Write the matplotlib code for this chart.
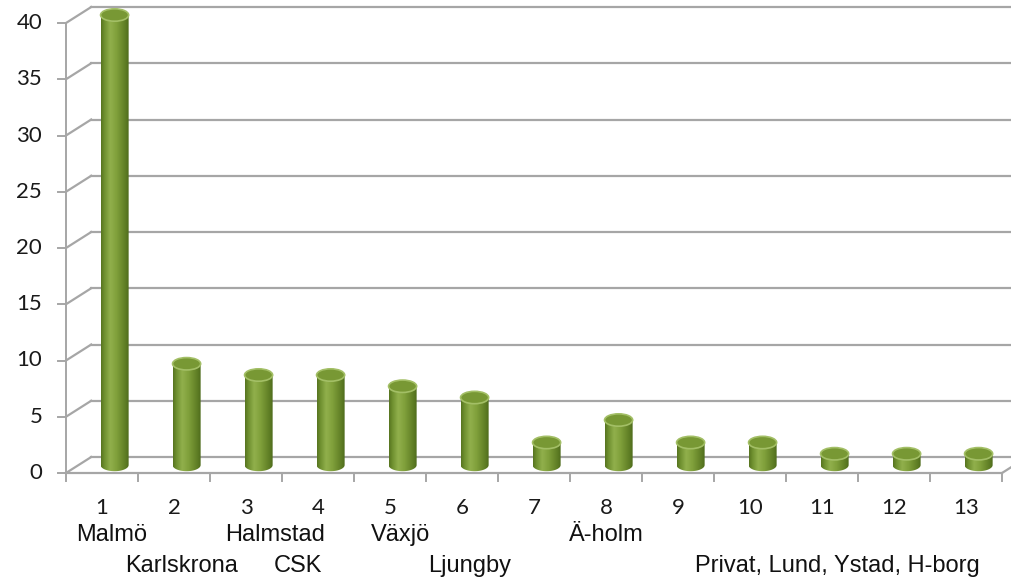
import numpy as np
import matplotlib as mpl
mpl.use('Agg')
import matplotlib.pyplot as plt
from matplotlib.path import Path
from matplotlib.patches import Ellipse, PathPatch
from matplotlib.colors import LinearSegmentedColormap

# data
values = [40, 9, 8, 8, 7, 6, 2, 4, 2, 2, 1, 1, 1]
numbers = [str(i) for i in range(1, 14)]
yticks = [0, 5, 10, 15, 20, 25, 30, 35, 40]
places_top = ['Malmö', 'Halmstad', 'Växjö', 'Ä-holm']
places_top_x = [0.64, 2.90, 4.65, 7.51]
places_bottom = ['Karlskrona', 'CSK', 'Ljungby', 'Privat, Lund, Ystad, H-borg']
places_bottom_x = [1.60, 3.22, 5.60, 10.71]

# 3d look settings
ddx = 0.35     # depth offset in category units
ddy = 1.42     # depth offset in value units
bar_w = 0.39
ell_h = 1.1
grid_c = '#a6a6a6'

body_cmap = LinearSegmentedColormap.from_list('cyl', [
    (0.0, '#56741f'), (0.12, '#6f9030'), (0.32, '#91b04c'),
    (0.55, '#7f9f3a'), (0.85, '#5d7c24'), (1.0, '#4a661a')])

fig = plt.figure(figsize=(10.12, 5.82), dpi=100)
ax = fig.add_axes([0, 0, 1, 1])
ax.set_xlim(-66 / 72, (1012 - 66) / 72)
ax.set_ylim(-109 / 11.25, (582 - 109) / 11.25)
ax.axis('off')

n = len(values)
xmax = ax.get_xlim()[1]

# back wall gridlines + left wall slants
for v in yticks:
    ax.plot([ddx, xmax], [v + ddy, v + ddy], color=grid_c, lw=1.6, zorder=1)
    ax.plot([0, ddx], [v, v + ddy], color=grid_c, lw=1.6, zorder=1)
    ax.plot([-0.11, 0], [v, v], color=grid_c, lw=1.4, zorder=1)
    ax.text(-0.33, v, str(v), ha='right', va='center', fontsize=16,
            family='Lato', color='#1a1a1a')

# front axes
ax.plot([0, 0], [0, 40], color=grid_c, lw=1.4, zorder=1)
ax.plot([0, n], [0, 0], color=grid_c, lw=1.6, zorder=1)
ax.plot([n, n + ddx], [0, ddy], color=grid_c, lw=1.6, zorder=1)
for i in range(n + 1):
    ax.plot([i, i], [0, -0.75], color=grid_c, lw=1.4, zorder=1)

# cylinders
grad = np.linspace(0, 1, 256).reshape(1, -1)
t = np.linspace(np.pi, 2 * np.pi, 60)
for i, v in enumerate(values):
    cx = i + 0.5 + ddx / 2
    base = ddy / 2
    top = v + ddy / 2
    x0, x1 = cx - bar_w / 2, cx + bar_w / 2
    arc = np.column_stack([cx + np.cos(t) * bar_w / 2, base + np.sin(t) * ell_h / 2])
    verts = np.vstack([[x0, top], arc, [x1, top], [x0, top]])
    body = Path(verts, closed=True)
    im = ax.imshow(grad, cmap=body_cmap, aspect='auto', interpolation='bilinear',
                   extent=[x0, x1, base - ell_h, top], zorder=3)
    patch = PathPatch(body, facecolor='none', edgecolor='none', transform=ax.transData)
    ax.add_patch(patch)
    im.set_clip_path(patch)
    ax.add_patch(Ellipse((cx, top), bar_w, ell_h, facecolor='#789834',
                         edgecolor='#a3bf66', lw=1.2, zorder=4))

# category labels
for i, s in enumerate(numbers):
    ax.text(i + 0.5, -3.1, s, ha='center', va='center', fontsize=16,
            family='Lato', color='#1a1a1a')
for s, x in zip(places_top, places_top_x):
    ax.text(x, -5.5, s, ha='center', va='center', fontsize=17,
            family='Liberation Sans', color='#111111')
for s, x in zip(places_bottom, places_bottom_x):
    ax.text(x, -8.3, s, ha='center', va='center', fontsize=17,
            family='Liberation Sans', color='#111111')

fig.savefig('out.png', dpi=100)
